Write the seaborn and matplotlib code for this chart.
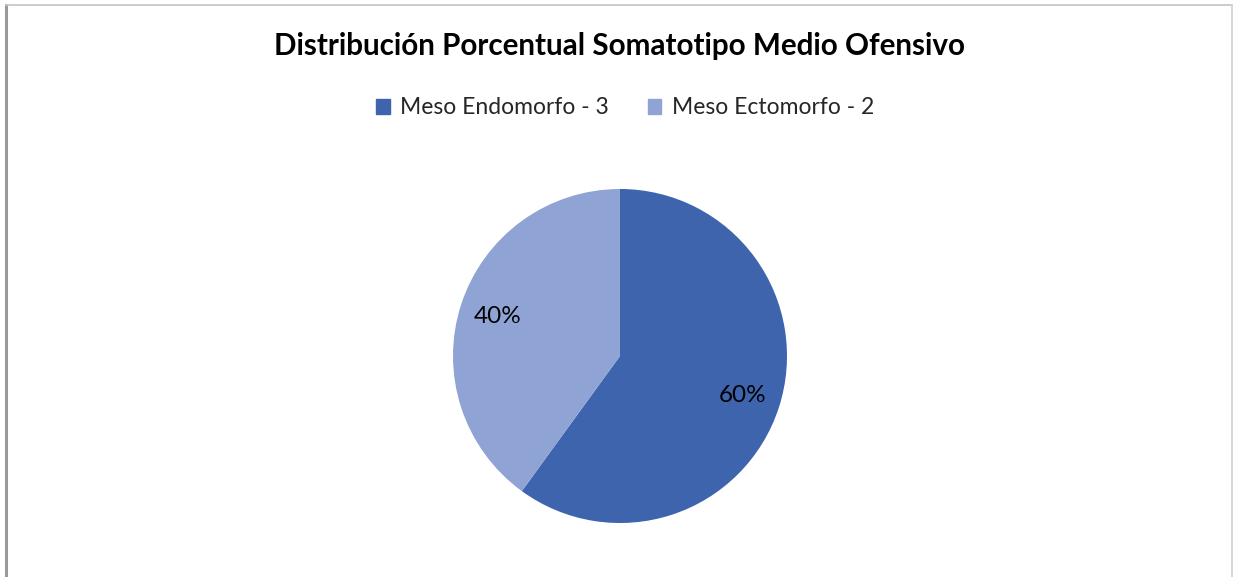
import matplotlib
matplotlib.use("Agg")
import matplotlib.pyplot as plt
import seaborn as sns
from matplotlib.lines import Line2D

# Chart data
categories = ["Meso Endomorfo - 3", "Meso Ectomorfo - 2"]
shares = [60, 40]
slice_colors = ["#3d64ad", "#8fa4d4"]
title = "Distribución Porcentual Somatotipo Medio Ofensivo"

sns.set_theme(style="white")
plt.rcParams['font.family'] = ['Lato', 'DejaVu Sans']

W, H = 1233, 577
fig = plt.figure(figsize=(W / 100, H / 100), dpi=100)
fig.patch.set_facecolor("white")

# pie axes placed so the circle sits where it does in the reference
cx, cy, r = 620, 356, 167
ax = fig.add_axes([(cx - r) / W, 1 - (cy + r) / H, 2 * r / W, 2 * r / H])
palette = sns.color_palette(slice_colors)
wedges, texts, autotexts = ax.pie(
    shares, colors=palette, startangle=90, counterclock=False,
    autopct=lambda p: f"{p:.0f}%", pctdistance=0.77, radius=1.0,
    wedgeprops=dict(linewidth=0),
    textprops=dict(fontsize=17.5, color="black"),
)
ax.set_aspect("equal")
ax.set_xlim(-1, 1)
ax.set_ylim(-1, 1)
ax.axis("off")

fig.text(cx / W, 1 - 46 / H, title, ha="center", va="center",
         fontsize=21.3, fontweight="bold", color="black")

handles = [plt.Rectangle((0, 0), 1, 1, color=c) for c in palette]
fig.legend(handles, categories, loc="center", bbox_to_anchor=(625 / W, 1 - 108 / H),
           ncol=2, frameon=False, fontsize=16.5, handlelength=0.6, handleheight=0.6,
           handletextpad=0.45, columnspacing=1.7)

# chart frame
fig.add_artist(Line2D([6 / W, 6 / W], [0, 1 - 5 / H], color="#9a9a9a", lw=2.2))
fig.add_artist(Line2D([6 / W, 1232 / W], [1 - 5 / H, 1 - 5 / H], color="#c4c4c4", lw=1.2))
fig.add_artist(Line2D([1232 / W, 1232 / W], [0, 1 - 5 / H], color="#d0d0d0", lw=1.2))

fig.savefig("out.png", dpi=100, facecolor="white")
